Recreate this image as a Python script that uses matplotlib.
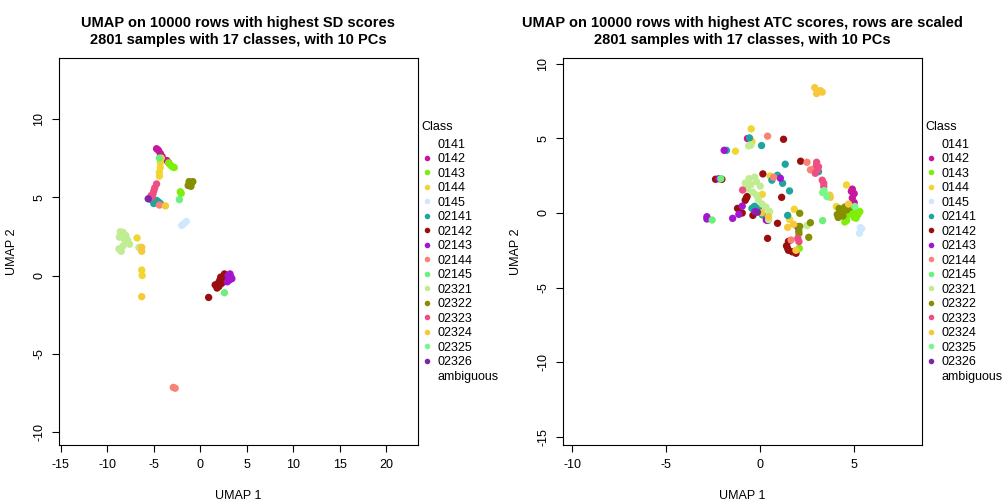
import numpy as np
import matplotlib
matplotlib.use("Agg")
import matplotlib.pyplot as plt
from matplotlib.lines import Line2D

plt.rcParams['font.family'] = ['Liberation Sans', 'DejaVu Sans']
plt.rcParams['axes.unicode_minus'] = False

classes = ["0141", "0142", "0143", "0144", "0145", "02141", "02142", "02143",
           "02144", "02145", "02321", "02322", "02323", "02324", "02325", "02326",
           "ambiguous"]
colors = ["white", "#C5169D", "#7FEE0A", "#F3D531", "#CDE8FF", "#1FA5A0", "#9A0E0E",
          "#A514CE", "#F88274", "#6CF07B", "#C0EC94", "#868F00", "#EE4E84",
          "#F7C83A", "#76F88B", "#7B28A6", "white"]

# left panel: UMAP on SD rows
sd = {
    "0142": [(-4.7, 8.1), (-4.5, 8.0), (-4.3, 7.8), (-4.1, 7.6), (-3.6, 7.35), (-3.4, 7.2)],
    "0143": [(-3.4, 7.2), (-3.2, 7.05), (-3.0, 6.95), (-2.8, 6.9), (-2.15, 5.35), (-2.05, 5.25)],
    "0144": [(-4.2, 7.5), (-4.3, 7.2), (-4.3, 6.9), (-4.4, 6.6), (-4.4, 6.35),
             (-6.8, 2.4), (-6.3, 0.35), (-6.25, 0.0)],
    "0145": [(-2.0, 3.2), (-1.8, 3.3), (-1.5, 3.45)],
    "02141": [(-5.3, 4.85), (-5.0, 4.75), (-4.7, 4.8), (-4.5, 4.7), (-4.3, 4.6), (-5.0, 4.6)],
    "02142": [(1.6, -0.6), (1.9, -0.5), (2.1, -0.3), (2.4, -0.2), (2.3, -0.5), (2.0, -0.7),
              (2.6, 0.1), (2.7, -0.1), (1.8, -0.8), (2.2, -0.1), (0.9, -1.4)],
    "02143": [(3.0, 0.0), (3.2, 0.1), (3.3, -0.1), (3.1, -0.3), (2.9, -0.4), (3.4, -0.2)],
    "02144": [(-4.4, 4.5), (-2.9, -7.15), (-2.7, -7.2)],
    "02145": [(-4.4, 7.5), (-2.25, 4.85), (2.6, -1.1)],
    "02321": [(-8.6, 2.8), (-8.3, 2.75), (-8.7, 2.45), (-8.2, 2.35), (-7.9, 2.1), (-7.6, 2.0),
              (-8.3, 1.9), (-8.75, 1.7), (-8.5, 1.55), (-8.0, 2.55), (-7.8, 2.25), (-6.6, 1.8)],
    "02322": [(-1.2, 6.0), (-0.9, 5.95), (-1.0, 5.7), (-1.3, 5.75), (-0.8, 6.0)],
    "02323": [(-4.7, 5.85), (-4.9, 5.6), (-5.0, 5.4), (-5.1, 5.2), (-5.3, 5.1), (-5.2, 5.0)],
    "02324": [(-3.75, 4.45), (-6.3, 1.8), (-6.3, 1.55), (-6.3, -1.35)],
    "02325": [],
    "02326": [(-5.6, 4.9)],
}

# right panel: UMAP on ATC rows, scaled
atc = {
    "0142": [(-0.68, 4.99), (4.9, 1.6), (5.0, 1.3), (4.9, 1.0), (5.0, 0.7), (4.8, 0.5),
             (4.85, 1.45), (1.99, -0.92)],
    "0143": [(4.9, 0.1), (5.1, 0.0), (5.2, -0.1), (4.7, -0.1), (5.0, -0.3), (5.3, 0.1),
             (4.6, -0.5), (4.5, -0.6), (4.8, 0.0), (5.1, -0.35), (2.08, -2.37)],
    "0144": [(-0.48, 5.64), (-0.44, 4.79), (-1.32, 4.14), (4.59, 1.88), (4.05, 0.43),
             (0.11, 1.25), (0.53, 2.48), (1.81, 0.25), (1.56, -0.43)],
    "0145": [(5.33, -0.98), (5.28, -1.36), (5.4, -1.05)],
    "02141": [(-0.57, 5.03), (0.07, 4.52), (-1.8, 4.2), (1.33, 3.27), (3.1, 2.77), (0.92, 2.53),
              (0.62, 2.2), (1.19, 1.99), (1.56, 1.48), (-0.44, 0.31), (-0.09, 0.3),
              (0.12, -0.13), (1.46, -0.16), (-0.3, 0.45)],
    "02142": [(1.24, 4.94), (2.15, 3.47), (-2.38, 2.26), (-2.04, 2.26), (0.14, 2.62),
              (1.14, 1.05), (-0.75, 0.98), (-0.8, 0.85), (-1.21, 0.31), (-0.96, 0.0),
              (-0.39, -0.16), (0.92, -0.69), (0.39, -1.7), (1.5, -1.9), (1.4, -2.2),
              (1.5, -2.5), (1.7, -2.6), (1.9, -2.7), (1.45, -2.35), (-0.7, 1.1)],
    "02143": [(-1.92, 4.2), (-2.2, 2.3), (1.07, 2.33), (-0.96, 0.46), (-0.28, 0.1),
              (-2.84, -0.25), (-2.84, -0.4), (-1.47, -0.36), (-1.14, -0.09), (0.32, -0.47),
              (0.4, -0.5)],
    "02144": [(0.39, 5.15), (2.49, 3.4), (2.67, 2.89), (2.85, 2.95), (0.71, 2.4), (1.64, -1.81)],
    "02145": [(-2.1, 2.3), (-2.56, -0.47), (3.32, -0.51)],
    "02321": [(-0.6, 2.3), (-0.3, 2.4), (-0.8, 2.0), (-0.5, 1.9), (-0.2, 2.1), (0.0, 1.8),
              (-0.7, 1.6), (-0.4, 1.4), (-0.1, 0.9), (0.1, 0.6), (0.3, 0.4), (0.5, 0.1),
              (-0.2, 1.2), (-0.62, 4.5), (-0.5, 4.55), (2.49, -0.85), (0.45, -0.45)],
    "02322": [(2.1, -0.02), (2.67, -0.65), (2.58, -1.63), (2.06, -1.37), (2.1, -0.9),
              (2.05, -1.2), (4.2, 0.3), (4.1, -0.1), (4.3, 0.0), (4.5, 0.4), (4.6, 0.2),
              (4.8, 0.4), (4.4, -0.2), (4.15, -0.3)],
    "02323": [(3.0, 3.4), (3.1, 3.1), (3.0, 3.2), (2.93, 2.66), (3.05, 2.9), (3.38, 1.99),
              (3.38, 1.77), (3.3, 2.2), (-0.94, 1.54), (2.0, -1.7), (2.06, -1.92)],
    "02324": [(2.9, 8.4), (3.2, 8.2), (3.0, 8.0), (3.3, 8.1), (3.73, 1.05), (3.7, 1.2),
              (0.09, 0.02), (0.44, -0.25), (1.78, -0.76), (1.46, -0.96), (4.7, 0.6),
              (1.9, -2.5)],
    "02325": [(3.32, 1.37), (3.55, 1.1), (5.03, 0.43), (3.4, 1.5)],
    "02326": [(-0.15, 0.05)],
}

fig = plt.figure(figsize=(10.08, 5.04), dpi=100)
ax1 = fig.add_axes([0.0585, 0.117, 0.356, 0.768])
ax2 = fig.add_axes([0.5585, 0.117, 0.356, 0.768])


def draw(ax, data, title, xlim, ylim, xticks, yticks):
    for cls, col in zip(classes, colors):
        pts = data.get(cls, [])
        if pts:
            xs = [p[0] for p in pts]
            ys = [p[1] for p in pts]
            ax.scatter(xs, ys, s=28, color=col, edgecolors='none', zorder=3)
    ax.set_xlim(*xlim)
    ax.set_ylim(*ylim)
    ax.set_xticks(xticks)
    ax.set_yticks(yticks)
    ax.tick_params(labelsize=9, length=5, direction='out', pad=5)
    for lab in ax.get_yticklabels():
        lab.set_rotation(90)
        lab.set_va('center')
    ax.set_xlabel("UMAP 1", fontsize=9, labelpad=14)
    ax.set_ylabel("UMAP 2", fontsize=9, labelpad=11)
    ax.set_title(title, fontsize=10.5, fontweight='bold', pad=10, linespacing=1.25)
    handles = []
    for cls, col in zip(classes, colors):
        if cls in ("0141", "ambiguous"):
            h = Line2D([], [], linestyle='none', marker='None')
        else:
            h = Line2D([], [], linestyle='none', marker='o', markersize=4,
                       markerfacecolor=col, markeredgecolor='none')
        handles.append(h)
    leg = ax.legend(handles, classes, title="Class", loc='upper left',
                    bbox_to_anchor=(0.99, 0.856), frameon=False, fontsize=9,
                    title_fontsize=9, labelspacing=0.2, handlelength=0.9,
                    handletextpad=0.35, borderaxespad=0.2)
    leg._legend_box.align = "left"
    leg._legend_box.sep = 4


draw(ax1, sd, "UMAP on 10000 rows with highest SD scores\n2801 samples with 17 classes, with 10 PCs",
     (-15.2, 23.4), (-10.83, 13.9), [-15, -10, -5, 0, 5, 10, 15, 20], [-10, -5, 0, 5, 10])
draw(ax2, atc, "UMAP on 10000 rows with highest ATC scores, rows are scaled\n2801 samples with 17 classes, with 10 PCs",
     (-10.5, 8.6), (-15.55, 10.39), [-10, -5, 0, 5], [-15, -10, -5, 0, 5, 10])

fig.savefig("out.png", dpi=100)
